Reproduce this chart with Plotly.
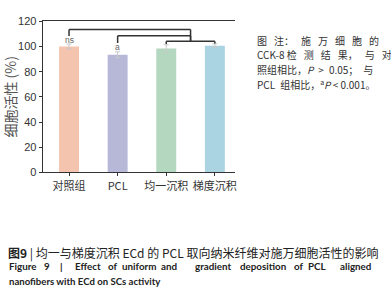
import plotly.graph_objects as go

categories = ["对照组", "PCL", "均一沉积", "梯度沉积"]
values = [100.0, 93.5, 98.4, 100.7]
errors = [2.0, 2.3, 3.0, 1.5]
colors = ["#F4C4AF", "#B7B8D7", "#B4D7BF", "#ABD4E3"]
# brackets: (x_start, x_end, level, drop_left, drop_right)
brackets = [(0, 2.5, 113.6, 108.3, 104.2), (1, 2.5, 108.5, 102.8, 104.2), (2, 3, 104.2, 102.0, 102.5)]
sig_labels = ["ns", "a", "", ""]
sig_levels = [105.3, 99.3, None, None]

note_lines = [
    "图\u2002\u2009注：\u2002\u2009施\u2002\u2009万\u2002\u2009细\u2002\u2009胞\u2002\u2009的",
    "CCK-8 检\u2002\u2009测\u2002\u2009结\u2002\u2009果，\u2002\u2009与\u2002\u2009对",
    "照组相比，<i>P</i>\u2002>\u20020.05；\u2002与",
    "PCL\u2002组相比，<sup>a</sup><i>P</i> < 0.001。",
]
note_y = [35.5, 51, 66.5, 82]

caption_cn = "<b>图9</b> | 均一与梯度沉积 ECd 的 PCL 取向纳米纤维对施万细胞活性的影响"
caption_en_words = ["Figure", "9", "|", "Effect", "of", "uniform", "and", "gradient",
                    "deposition", "of", "PCL", "aligned"]
caption_en_xc = [22.5, 47, 62, 88, 114, 140, 170, 214, 264.5, 300.5, 318.5, 357]
caption_en_line2 = "nanofibers with ECd on SCs activity"

CJK = "Noto Sans CJK SC"
EN = "Lato"
W, H = 391, 300

fig = go.Figure()
fig.add_trace(go.Bar(
    x=categories, y=values, marker=dict(color=colors, line=dict(width=0)),
    error_y=dict(type="data", array=errors, color="#C8C8C8", thickness=1, width=2.5),
    width=0.41, showlegend=False,
))

lc = "#333333"
shapes = []
for x0, x1, lvl, d0, d1 in brackets:
    for sx0, sx1, sy0, sy1 in [(x0, x1, lvl, lvl), (x0, x0, lvl, d0), (x1, x1, lvl, d1)]:
        shapes.append(dict(type="line", xref="x", yref="y", x0=sx0, x1=sx1, y0=sy0, y1=sy1,
                           line=dict(color=lc, width=1.5)))

annotations = []
for i, (lab, lv) in enumerate(zip(sig_labels, sig_levels)):
    if lab:
        annotations.append(dict(x=i, y=lv, xref="x", yref="y", text=lab, showarrow=False,
                                font=dict(size=8.5, color="#666", family="Arial"), yanchor="middle"))


def px_note(text, x, y, size, fam, color="#333", anchor="left"):
    annotations.append(dict(x=x / W, y=1 - y / H, xref="paper", yref="paper", text=text, showarrow=False,
                            xanchor=anchor, yanchor="middle", font=dict(size=size, color=color, family=fam)))


for t, yy in zip(note_lines, note_y):
    px_note(t, 256, yy, 10, CJK)

px_note(caption_cn, 6, 257, 12, CJK, "#222")
for wd, xx in zip(caption_en_words, caption_en_xc):
    px_note("<b>%s</b>" % wd, xx, 271, 9.8, EN, "#222", anchor="center")
px_note("<b>%s</b>" % caption_en_line2, 7, 287, 9.6, EN, "#222")

fig.update_layout(
    width=W, height=H, margin=dict(l=0, r=0, t=0, b=0),
    paper_bgcolor="white", plot_bgcolor="white",
    xaxis=dict(domain=[43 / W, 236 / W], range=[-0.54, 3.41], showline=True, linecolor=lc, linewidth=1.2,
               mirror=True, ticks="outside", ticklen=3, tickcolor=lc, showgrid=False,
               tickfont=dict(size=11, color="#333", family=CJK)),
    yaxis=dict(domain=[(H - 173.3) / H, (H - 16) / H], range=[0, 120], dtick=20, showline=True,
               linecolor=lc, linewidth=1.2, ticks="outside", ticklen=3, tickcolor=lc, showgrid=False,
               zeroline=False, tickfont=dict(size=11, color="#333", family="Arial"),
               title=dict(text="细胞活性 (%)", font=dict(size=14, color="#555", family=CJK), standoff=4)),
    shapes=shapes, annotations=annotations,
)
fig.write_html("out.html", config={"displayModeBar": False},
               post_script="document.body.style.margin='0';")
